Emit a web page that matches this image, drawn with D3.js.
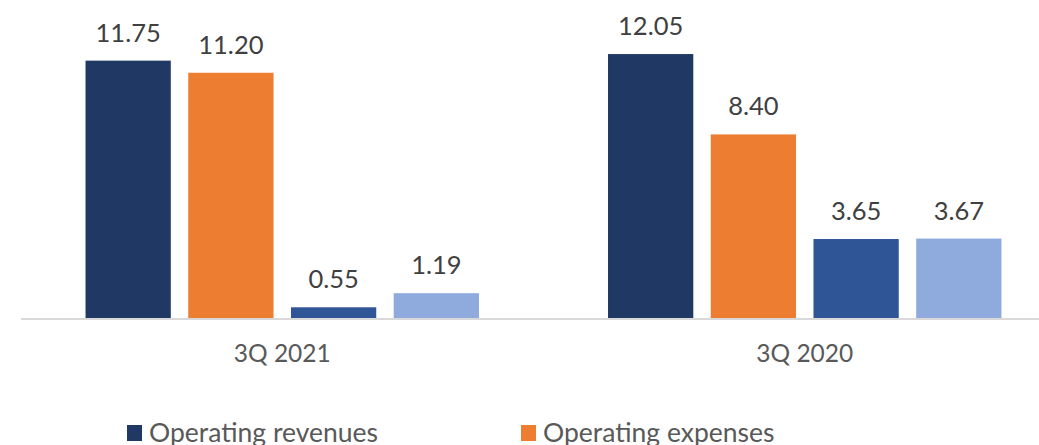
<!DOCTYPE html>
<html>
<head>
<meta charset="utf-8">
<script src="https://cdn.jsdelivr.net/npm/d3@7"></script>
<style>
  html, body { margin: 0; padding: 0; background: #ffffff; overflow: hidden; }
  svg { display: block; font-family: Lato, "Open Sans", sans-serif; }
</style>
</head>
<body>
<div id="canvas"></div>
<script>
"use strict"

/* Data */
let quarters = ["3Q 2021", "3Q 2020"];
let seriesNames = ["Operating revenues", "Operating expenses", "Operating profit", "Net profit"];
let revenues = [11.75, 12.05];
let expenses = [11.20, 8.40];
let operatingProfit = [0.55, 3.65];
let netProfit = [1.19, 3.67];
let seriesColors = ["#203864", "#ed7d31", "#2f5597", "#8faadc"];

/* Configuration variables: drawing */
let svgWidth = 1039;
let svgHeight = 445;

let allSeries = [revenues, expenses, operatingProfit, netProfit];

let rows = [];
quarters.forEach(function (q, i) {
    seriesNames.forEach(function (s, j) {
        rows.push({ quarter: q, series: s, value: allSeries[j][i] });
    });
});

let svg = d3.select("#canvas")
    .append("svg")
    .attr("width", svgWidth)
    .attr("height", svgHeight);

/* Scales */
let x0 = d3.scaleBand()
    .domain(quarters)
    .range([21, 1066])
    .paddingInner(0.247)
    .paddingOuter(0.1235);

let x1 = d3.scaleBand()
    .domain(seriesNames)
    .range([0, x0.bandwidth()])
    .paddingInner(0.17)
    .paddingOuter(0);

let y = d3.scaleLinear()
    .domain([0, 14])
    .range([319.4, 11.1]);

let color = d3.scaleOrdinal()
    .domain(seriesNames)
    .range(seriesColors);

/* Bars */
svg.selectAll("rect.bar")
    .data(rows)
    .join("rect")
    .attr("class", "bar")
    .attr("x", function (d) { return x0(d.quarter) + x1(d.series); })
    .attr("y", function (d) { return y(d.value); })
    .attr("width", x1.bandwidth())
    .attr("height", function (d) { return y(0) - y(d.value); })
    .attr("fill", function (d) { return color(d.series); });

/* Value labels */
svg.selectAll("text.value")
    .data(rows)
    .join("text")
    .attr("class", "value")
    .attr("x", function (d) { return x0(d.quarter) + x1(d.series) + x1.bandwidth() / 2; })
    .attr("y", function (d) { return y(d.value) - 19; })
    .attr("text-anchor", "middle")
    .attr("font-size", 25.5)
    .attr("fill", "#404040")
    .text(function (d) { return d3.format(".2f")(d.value); });

/* Category axis */
let xAxis = svg.append("g")
    .attr("transform", "translate(0," + 319 + ")")
    .call(d3.axisBottom(x0).tickSize(0).tickPadding(26));

xAxis.select(".domain")
    .attr("d", "M21,0H1039")
    .attr("stroke", "#d9d9d9")
    .attr("stroke-width", 2);

xAxis.selectAll("text")
    .attr("font-family", "Lato, 'Open Sans', sans-serif")
    .attr("font-size", 24.5)
    .attr("fill", "#595959");

/* Legend: only the first row fits inside the frame */
let legend = svg.selectAll("g.legend")
    .data(seriesNames.slice(0, 2))
    .join("g")
    .attr("class", "legend")
    .attr("transform", function (d, i) {
        return "translate(" + (127 + i * 394) + ",442)";
    });

legend.append("rect")
    .attr("x", 0)
    .attr("y", -17)
    .attr("width", 15)
    .attr("height", 16)
    .attr("fill", function (d) { return color(d); });

legend.append("text")
    .attr("x", 22)
    .attr("y", 0)
    .attr("font-size", 26.5)
    .attr("fill", "#595959")
    .text(function (d) { return d; });
</script>
</body>
</html>
